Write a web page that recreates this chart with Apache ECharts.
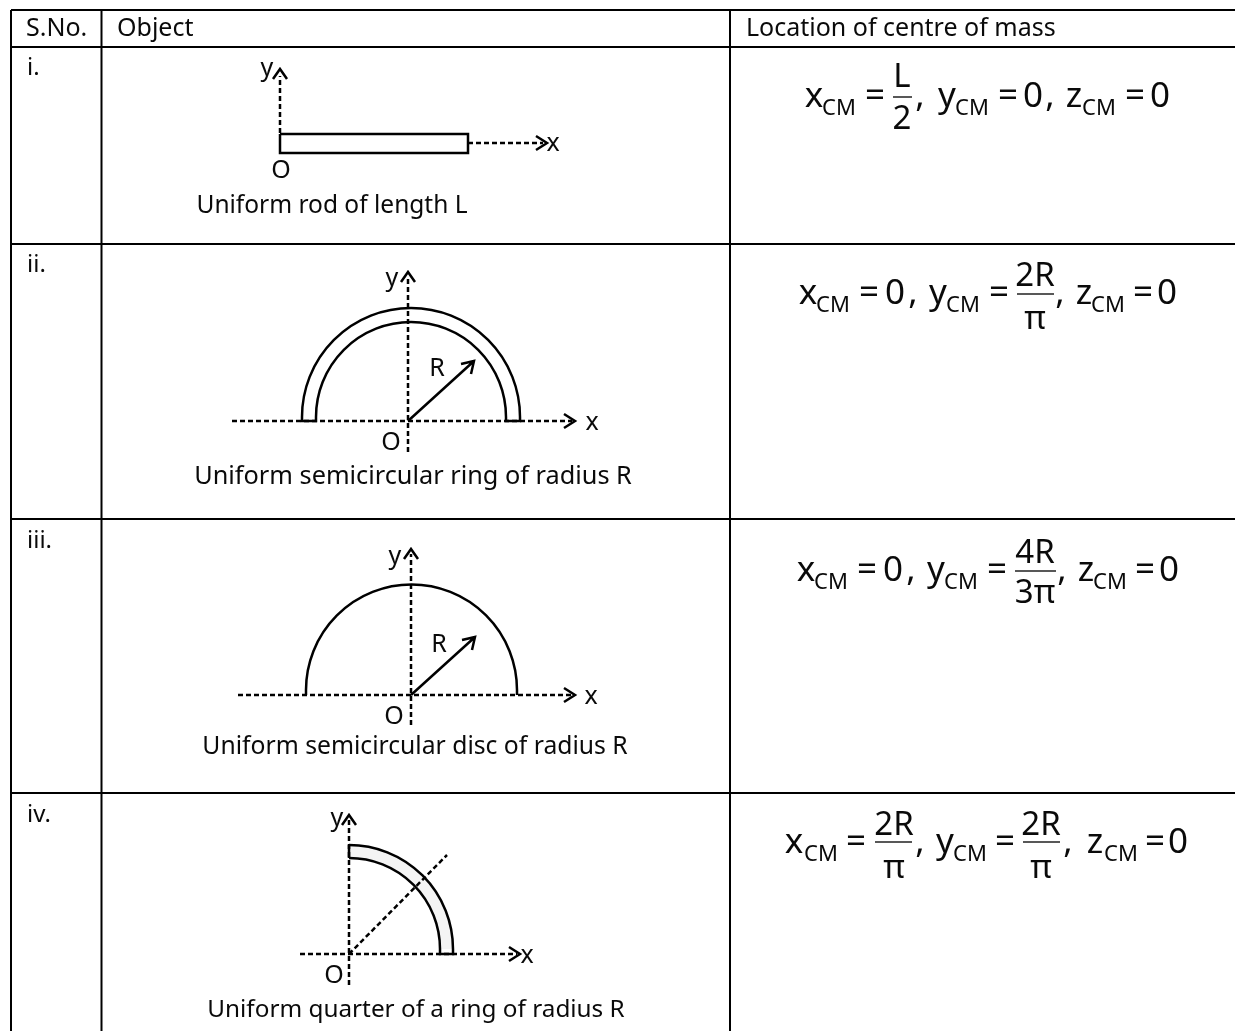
<!DOCTYPE html>
<html>
<head>
<meta charset="utf-8">
<title>Centre of mass table</title>
<script src="https://cdn.jsdelivr.net/npm/echarts@6/dist/echarts.min.js"></script>
<style>
  html, body { margin: 0; padding: 0; background: #ffffff; }
  #chart { width: 1235px; height: 1031px; }
</style>
</head>
<body>
<div id="chart"></div>
<script>
// everything below is in picture units, the axes run 0..1235 and 0..1031
// the scan is cut off: no right border and no bottom border
const tableColumns = [11, 101.5, 730];
const tableRows = [10, 47, 244, 519, 793];

const headerLabels = [['S.No.', 26, 27], ['Object', 117, 27], ['Location of centre of mass', 746, 27]];
const rowLabels = [['i.', 27, 66], ['ii.', 27, 263], ['iii.', 27, 539], ['iv.', 27, 813]];
const captionLabels = [
  ['Uniform rod of length L', 332, 204],
  ['Uniform semicircular ring of radius R', 413, 475],
  ['Uniform semicircular disc of radius R', 415, 745],
  ['Uniform quarter of a ring of radius R', 416, 1008]
];
const captionSizes = [24.5, 25.3, 24.7, 24.3];
const axisLabels = [
  ['y', 267, 67], ['x', 553, 142], ['O', 281, 169],
  ['y', 392, 277], ['x', 592, 421], ['O', 391, 441], ['R', 437, 367],
  ['y', 395, 555], ['x', 591, 695], ['O', 394, 715], ['R', 439, 643],
  ['y', 337, 817], ['x', 527, 954], ['O', 334, 974]
];

// dashed axes, null splits one stroke from the next
const dashedLines = [
  [280, 133], [280, 76], null,
  [468, 143], [543, 143], null,
  [232, 421], [572, 421], null,
  [408, 452], [408, 276], null,
  [238, 695], [572, 695], null,
  [411, 725], [411, 554], null,
  [300, 954], [517, 954], null,
  [349, 985], [349, 820], null,
  [349, 954], [447, 855]
];
// arrow heads, radius arrows, the rod, short legs under the rings
const solidLines = [
  [273, 79], [280, 69], [287, 79], null,
  [536, 136], [547, 143], [536, 150], null,
  [280, 134], [468, 134], [468, 153], [280, 153], [280, 134], null,
  [401, 282], [408, 272], [415, 282], null,
  [564, 414], [575, 421], [564, 428], null,
  [408, 421], [474, 361], null,
  [461, 364], [474, 361], [471, 374], null,
  [404, 559], [411, 549], [418, 559], null,
  [564, 688], [575, 695], [564, 702], null,
  [411, 695], [475, 637], null,
  [462, 640], [475, 637], [472, 650], null,
  [342, 825], [349, 815], [356, 825], null,
  [509, 947], [520, 954], [509, 961], null,
  [302, 417], [302, 421], [316, 421], [316, 417], null,
  [506, 417], [506, 421], [520, 421], [520, 417], null,
  [306, 690], [306, 695], null,
  [517, 690], [517, 695], null,
  [349, 845], [349, 858], null,
  [440, 949], [440, 954], [453, 954], [453, 949]
];
// arcs: centre, outer and inner radius (0 means no inner arc), degrees
const ringCentres = [[411, 417], [411.5, 690], [349, 949]];
const ringRadii = [[109, 95], [105.5, 0], [104, 91]];
const ringAngles = [[180, 360], [180, 360], [270, 360]];
const ringFills = ['none', 'none', '#f4f4f4'];

// formula parts: text, x, y
const formulaBase = [
  ['x', 814, 95], ['=', 875, 95], [',', 920, 95], ['y', 947, 95], ['=', 1008, 95], ['0', 1033, 95], [',', 1050, 95], ['z', 1074, 95], ['=', 1135, 95], ['0', 1160, 95],
  ['x', 808, 292], ['=', 869, 292], ['0', 895, 292], [',', 913, 292], ['y', 938, 292], ['=', 999, 292], [',', 1060, 292], ['z', 1084, 292], ['=', 1143, 292], ['0', 1167, 292],
  ['x', 806, 569], ['=', 867, 569], ['0', 893, 569], [',', 911, 569], ['y', 936, 569], ['=', 997, 569], [',', 1062, 569], ['z', 1086, 569], ['=', 1145, 569], ['0', 1169, 569],
  ['x', 794, 841], ['=', 856, 841], [',', 920, 841], ['y', 945, 841], ['=', 1005, 841], [',', 1068, 841], ['z', 1095, 841], ['=', 1155, 841], ['0', 1178, 841]
];
const formulaSubs = [
  ['CM', 839, 107], ['CM', 972, 107], ['CM', 1099, 107],
  ['CM', 833, 304], ['CM', 963, 304], ['CM', 1108, 304],
  ['CM', 831, 581], ['CM', 961, 581], ['CM', 1110, 581],
  ['CM', 821, 853], ['CM', 970, 853], ['CM', 1121, 853]
];
const fractionParts = [
  ['L', 902, 76], ['2', 902, 118],
  ['2R', 1035, 275], ['\u03c0', 1035, 318],
  ['4R', 1035, 552], ['3\u03c0', 1035, 592],
  ['2R', 894, 824], ['\u03c0', 894, 867],
  ['2R', 1041, 824], ['\u03c0', 1041, 867]
];
const fractionBars = [
  [893, 97], [912, 97], null,
  [1017, 294], [1054, 294], null,
  [1015, 571], [1056, 571], null,
  [875, 842], [912, 842], null,
  [1023, 842], [1060, 842]
];

const tableLines = [];
tableRows.forEach(y => {
  tableLines.push([tableColumns[0], y], [1235, y], null);
});
tableColumns.forEach(x => {
  tableLines.push([x, tableRows[0]], [x, 1031], null);
});

const FONT = '"Noto Sans", sans-serif';
const TEXT_NUDGE = 2; // Noto's middle sits a little high

function lineSeries(data, width, dash, color) {
  return {
    type: 'line',
    data: data.map(p => p || [null, null]),
    showSymbol: false,
    symbol: 'none',
    connectNulls: false,
    clip: false,
    silent: true,
    lineStyle: { color: color || '#000000', width: width, type: dash || 'solid', cap: 'butt', join: 'miter' }
  };
}

function textSeries(items, size, align) {
  return {
    type: 'custom',
    coordinateSystem: 'cartesian2d',
    clip: false,
    silent: true,
    z: 5,
    data: items.map(t => [t[1], t[2]]),
    encode: { x: 0, y: 1 },
    renderItem(params, api) {
      const pos = api.coord([api.value(0), api.value(1)]);
      const px = Array.isArray(size) ? size[params.dataIndex] : size;
      return {
        type: 'text',
        x: pos[0],
        y: pos[1] + TEXT_NUDGE,
        style: {
          text: items[params.dataIndex][0],
          fill: '#0a0a0a',
          font: px + 'px ' + FONT,
          align: align,
          verticalAlign: 'middle'
        }
      };
    }
  };
}

const ringSeries = {
  type: 'custom',
  coordinateSystem: 'cartesian2d',
  clip: false,
  silent: true,
  z: 1,
  data: ringCentres,
  encode: { x: 0, y: 1 },
  renderItem(params, api) {
    const c = api.coord([api.value(0), api.value(1)]);
    const i = params.dataIndex;
    const start = ringAngles[i][0] * Math.PI / 180;
    const end = ringAngles[i][1] * Math.PI / 180;
    const children = [];
    if (ringFills[i] !== 'none') {
      children.push({
        type: 'sector',
        shape: { cx: c[0], cy: c[1], r: ringRadii[i][0], r0: ringRadii[i][1], startAngle: start, endAngle: end, clockwise: true },
        style: { fill: ringFills[i], stroke: null }
      });
    }
    ringRadii[i].forEach(r => {
      if (r > 0) {
        children.push({
          type: 'arc',
          shape: { cx: c[0], cy: c[1], r: r, startAngle: start, endAngle: end, clockwise: true },
          style: { fill: null, stroke: '#000000', lineWidth: 2.5 }
        });
      }
    });
    return { type: 'group', children: children };
  }
};

const chart = echarts.init(document.getElementById('chart'), null, { renderer: 'canvas' });
chart.setOption({
  animation: false,
  backgroundColor: '#ffffff',
  grid: { left: 0, right: 0, top: 0, bottom: 0 },
  xAxis: { type: 'value', min: 0, max: 1235, show: false },
  yAxis: { type: 'value', min: 0, max: 1031, inverse: true, show: false },
  series: [
    ringSeries,
    lineSeries(tableLines, 2),
    lineSeries(dashedLines, 2.5, [5, 3]),
    lineSeries(solidLines, 2.5),
    lineSeries(fractionBars, 1.5, 'solid', '#222222'),
    textSeries(headerLabels, 25, 'left'),
    textSeries(rowLabels, 24, 'left'),
    textSeries(captionLabels, captionSizes, 'center'),
    textSeries(axisLabels, 25, 'center'),
    textSeries(formulaBase, 35, 'center'),
    textSeries(formulaSubs, 22, 'center'),
    textSeries(fractionParts, 33, 'center')
  ]
});
</script>
</body>
</html>
